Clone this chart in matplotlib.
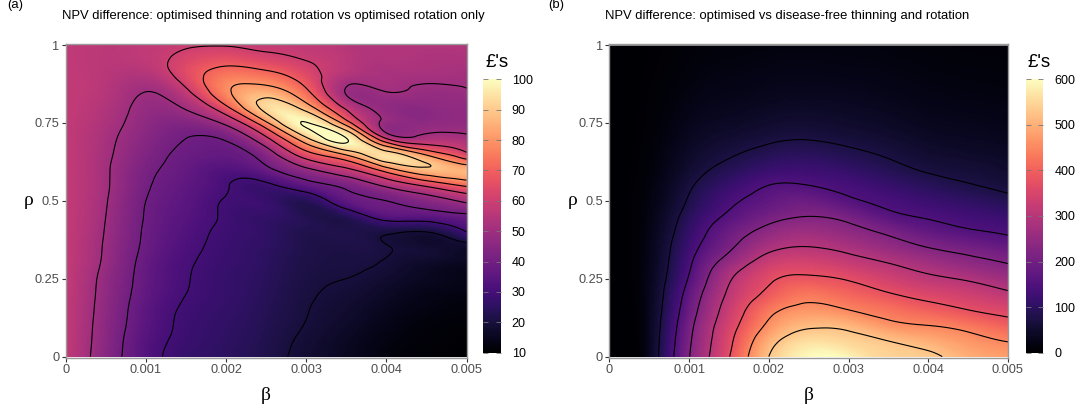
import numpy as np
import matplotlib
matplotlib.use('Agg')
import matplotlib.pyplot as plt
import matplotlib.tri as mtri
from matplotlib.cm import ScalarMappable
from matplotlib.colors import Normalize

plt.rcParams['font.family'] = ['Liberation Sans', 'DejaVu Sans']

# grid the NPV surfaces were read on
beta = [0, 0.0005, 0.001, 0.0015, 0.002, 0.0025, 0.003, 0.0035, 0.004, 0.0045, 0.005]
rho = [0, 0.05, 0.1, 0.15, 0.2, 0.25, 0.3, 0.35, 0.4, 0.45, 0.5,
       0.55, 0.6, 0.65, 0.7, 0.75, 0.8, 0.85, 0.9, 0.95, 1.0]

# (a) one list per beta value, rho from 0 to 1
npv_a = [
    [58, 58, 58, 58, 58, 58, 58, 58, 58, 58, 58, 58, 58, 58, 57.5, 57.5, 57.5, 57.5, 57, 57, 57],
    [45, 45.5, 46, 46.5, 47, 47.5, 48.5, 49, 49.5, 50, 50.5, 51, 51, 51.5, 52, 53, 54, 55, 55.5, 56, 56],
    [33.5, 34, 35, 35.5, 36.5, 37, 37.5, 38.5, 39, 39.5, 40, 41, 42, 43.5, 45, 46.5, 48, 50, 54, 57, 57],
    [27, 28, 28.5, 29, 30, 30.5, 31, 32, 33, 34, 35, 36, 37, 38.5, 40, 44, 51, 58, 64, 63, 59],
    [25, 25.5, 26, 26.5, 27, 27, 27.5, 28, 28.5, 29, 29.5, 30.5, 33, 37, 41, 52, 68, 78, 75, 67, 59.5],
    [22, 22.5, 23, 23.5, 24, 24.5, 25, 25.5, 26, 26.5, 27.5, 28.5, 38, 45, 58, 78, 93, 85, 74, 64, 58],
    [18.5, 19, 19.8, 20.2, 20.6, 21, 21.5, 22, 22.5, 23, 24, 36, 48, 66, 88, 100.3, 85, 72, 65, 60, 57],
    [15.5, 16, 17, 18, 19, 20, 20.7, 21.3, 22, 24, 36, 42, 58, 82, 100.3, 75, 58, 49.5, 54, 56, 55],
    [12.5, 13, 14, 15, 16.5, 18, 19.5, 20.3, 21, 34, 40, 52, 75, 94, 60, 48, 47, 50, 52, 53.5, 54],
    [11, 11.5, 12, 13, 14, 15.5, 17, 18.5, 20, 35, 45, 62, 88, 78, 53, 46.5, 46, 48.5, 51.5, 53, 54],
    [10, 10.5, 11, 12, 13, 14, 15.5, 17, 30, 38, 52, 72, 86, 62, 52, 47, 47, 49.5, 51, 53, 54],
]

# (b) one list per beta value, rho from 0 to 1
npv_b = [
    [0] * 21,
    [35, 35, 34, 33, 32, 31, 29, 27, 25, 22, 19, 16, 13, 11, 9, 7, 6, 5, 4, 3, 3],
    [222, 215, 205, 190, 175, 155, 140, 125, 110, 95, 80, 68, 55, 45, 37, 30, 24, 19, 15, 12, 10],
    [372, 360, 345, 328, 310, 292, 255, 215, 190, 160, 138, 115, 90, 70, 55, 42, 33, 26, 21, 17, 14],
    [525, 500, 462, 430, 390, 365, 330, 285, 245, 205, 175, 150, 118, 90, 68, 52, 40, 31, 25, 20, 16],
    [595, 560, 515, 468, 430, 385, 345, 302, 265, 225, 190, 150, 122, 97, 73, 56, 43, 33, 26, 21, 17],
    [590, 548, 508, 450, 408, 370, 325, 285, 245, 208, 160, 135, 110, 85, 65, 50, 40, 32, 25, 20, 17],
    [545, 525, 468, 425, 380, 340, 300, 255, 215, 165, 138, 115, 90, 70, 55, 43, 34, 27, 22, 18, 15],
    [535, 500, 450, 400, 355, 312, 272, 225, 180, 145, 120, 95, 70, 55, 43, 34, 27, 22, 18, 15, 13],
    [500, 470, 430, 375, 335, 293, 245, 205, 158, 130, 105, 78, 62, 48, 38, 30, 24, 19, 16, 13, 11],
    [480, 448, 400, 355, 310, 265, 224, 185, 143, 118, 88, 65, 52, 42, 33, 26, 21, 17, 14, 12, 10],
]
b_missing_rho = 1.0  # top row of (b) has no value

levels_a = [20, 30, 40, 50, 60, 70, 80, 90, 100]
levels_b = [75, 150, 225, 300, 375, 450, 525]
lims_a = (10, 100)
lims_b = (0, 600)
ticks_a = [10, 20, 30, 40, 50, 60, 70, 80, 90, 100]
ticks_b = [0, 100, 200, 300, 400, 500, 600]

titles = ['NPV difference: optimised thinning and rotation vs optimised rotation only',
          'NPV difference: optimised vs disease-free thinning and rotation']

W, H = 1089, 412
fig = plt.figure(figsize=(W / 100, H / 100), dpi=100)


def fx(px):
    return px / W


def fy(py):
    return 1 - py / H


def surface(values):
    z = np.array(values, dtype=float).T  # rows = rho, cols = beta
    nb, nr = len(beta), len(rho)
    gx, gy = np.meshgrid(np.linspace(0, 1, nb), rho)
    # split each cell along the upper-left / lower-right diagonal
    cells = []
    for i in range(nr - 1):
        for j in range(nb - 1):
            p00, p01 = i * nb + j, i * nb + j + 1
            p10, p11 = (i + 1) * nb + j, (i + 1) * nb + j + 1
            cells += [[p00, p01, p10], [p01, p11, p10]]
    tri = mtri.Triangulation(gx.ravel(), gy.ravel(), np.array(cells))
    interp = mtri.CubicTriInterpolator(tri, z.ravel(), kind='min_E')
    tri_f, z_f = mtri.UniformTriRefiner(tri).refine_field(
        z.ravel(), triinterpolator=interp, subdiv=4)
    tri_d = mtri.Triangulation(tri_f.x * beta[-1], tri_f.y, tri_f.triangles)
    return tri_d, z_f


def panel(ax, cax, values, levels, lims, ticks, title, tag, tag_x, title_x):
    tri_d, z_f = surface(values)
    ax.tripcolor(tri_d, z_f, shading='gouraud', cmap='magma', vmin=lims[0], vmax=lims[1])
    ax.tricontour(tri_d, z_f, levels=levels, colors='black', linewidths=0.8)
    ax.set_xlim(0, 0.005)
    ax.set_ylim(-0.003, 1.005)
    ax.set_xticks([0, 0.001, 0.002, 0.003, 0.004, 0.005])
    ax.set_xticklabels(['0', '0.001', '0.002', '0.003', '0.004', '0.005'])
    ax.set_yticks([0, 0.25, 0.5, 0.75, 1])
    ax.set_yticklabels(['0', '0.25', '0.5', '0.75', '1'])
    ax.tick_params(length=3, width=0.8, color='#333333', labelcolor='#4d4d4d',
                   labelsize=9.2, pad=1.5)
    for s in ax.spines.values():
        s.set_color('#9a9a9a')
        s.set_linewidth(1)
    ax.set_xlabel('β', family='Liberation Serif', fontsize=14, labelpad=8)
    ax.set_ylabel('ρ', family='Liberation Serif', fontsize=14, rotation=0,
                  va='center', labelpad=4)

    sm = ScalarMappable(norm=Normalize(*lims), cmap='magma')
    cb = fig.colorbar(sm, cax=cax, ticks=ticks)
    cb.outline.set_visible(False)
    cax.tick_params(direction='in', left=True, right=True, length=3.5,
                    width=0.6, color='#777777', labelsize=9, pad=8,
                    labelcolor='black')

    fig.text(title_x, fy(19.5), title, fontsize=9.35, va='baseline', ha='left')
    fig.text(tag_x, fy(8), tag, fontsize=9.35, va='baseline', ha='left')


ax_a = fig.add_axes([fx(65.7), fy(357.5), fx(466.5 - 65.7), (357.5 - 43.5) / H])
cax_a = fig.add_axes([fx(483.3), fy(352.7), fx(17.4), (352.7 - 79.3) / H])
panel(ax_a, cax_a, npv_a, levels_a, lims_a, ticks_a, titles[0], '(a)', fx(7), fx(62))
fig.text(fx(485), fy(67), "£'s", fontsize=13.5, va='baseline', ha='left')

ax_b = fig.add_axes([fx(609.3), fy(357.5), fx(1008 - 609.3), (357.5 - 43.5) / H])
cax_b = fig.add_axes([fx(1026), fy(352.7), fx(17.4), (352.7 - 79.3) / H])
panel(ax_b, cax_b, npv_b, levels_b, lims_b, ticks_b, titles[1], '(b)', fx(548), fx(605))
ax_b.axhspan(b_missing_rho - 0.004, b_missing_rho + 0.005, color='#7f7f7f', lw=0)
fig.text(fx(1028), fy(67), "£'s", fontsize=13.5, va='baseline', ha='left')

fig.savefig('out.png', dpi=100)
